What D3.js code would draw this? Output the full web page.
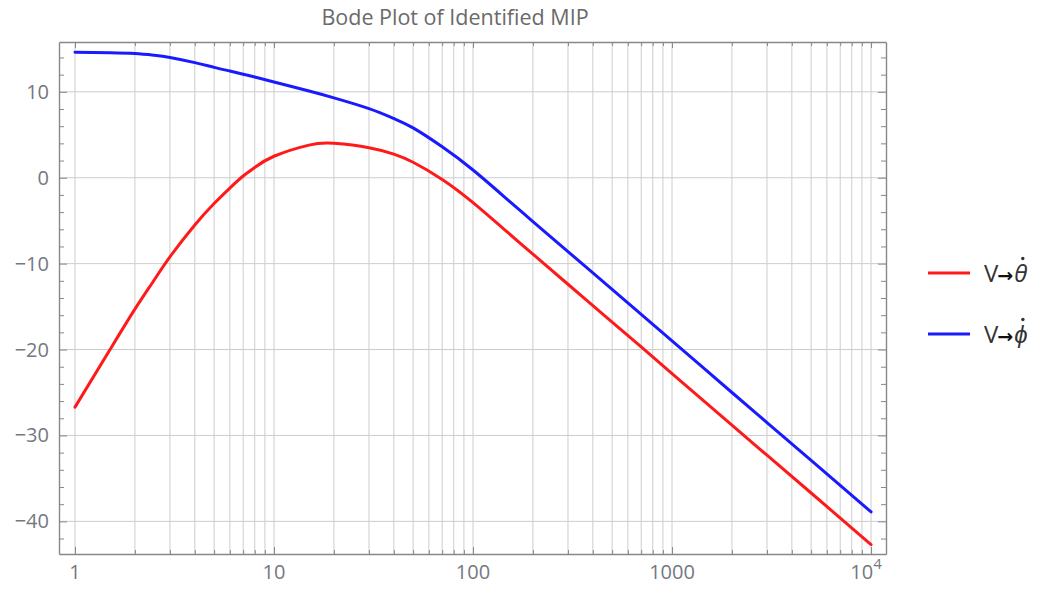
<!DOCTYPE html>
<html>
<head>
<meta charset="utf-8">
<script src="https://cdn.jsdelivr.net/npm/d3@7"></script>
<style>
  html, body { margin: 0; padding: 0; background: #fff; }
  svg { display: block; font-family: "Open Sans", "Liberation Sans", sans-serif; }
</style>
</head>
<body>
<svg id="chart" width="1051" height="589"></svg>
<script>
// Frequencies (rad/s) at which the magnitude responses are sampled
const freq = [1, 1.5, 2, 2.5, 3, 4, 5, 6, 7, 8, 10, 15, 20, 30, 40, 50, 70, 100, 150, 200, 300, 500, 700, 1000, 2000, 3000, 5000, 10000];
// Magnitude (dB), input voltage -> pitch rate
const thetaDot = [-26.7, -20.0, -15.3, -11.9, -9.2, -5.5, -3.0, -1.2, 0.2, 1.2, 2.5, 3.8, 4.0, 3.5, 2.75, 1.8, -0.2, -2.9, -6.4, -8.9, -12.4, -16.8, -19.7, -22.8, -28.8, -32.3, -36.7, -42.7];
// Magnitude (dB), input voltage -> wheel rate
const phiDot = [14.6, 14.55, 14.45, 14.25, 14.0, 13.4, 12.85, 12.42, 12.05, 11.72, 11.15, 10.1, 9.3, 8.05, 6.9, 5.8, 3.6, 0.9, -2.6, -5.1, -8.6, -13.0, -15.9, -19.0, -25.0, -28.5, -32.9, -38.9];
// Axis ticks
const xMajor = [1, 10, 100, 1000, 10000];
const yMajor = [-40, -30, -20, -10, 0, 10];
const yMinor = d3.range(-42, 16, 2);
const legendItems = [
  { label: "θ", color: "#ff1a1a", values: thetaDot },
  { label: "ϕ", color: "#1a1aff", values: phiDot }
];

const svg = d3.select("#chart");
const plotL = 59, plotR = 886, plotT = 42, plotB = 554;

const x = d3.scaleLog().domain([0.831, 11890]).range([plotL, plotR]);
const y = d3.scaleLinear().domain([-43.8, 15.8]).range([plotB, plotT]);

// Vertical grid values: 1..9 per decade
const xGrid = [];
for (let p = 0; p < 5; p++) for (let m = 1; m <= 9; m++) {
  const v = m * Math.pow(10, p);
  if (v <= 10000) xGrid.push(v);
}

const grid = svg.append("g").attr("stroke", "#cdcdcd").attr("stroke-width", 1);
grid.selectAll("line.v").data(xGrid).join("line").attr("class", "v")
  .attr("x1", d => x(d)).attr("x2", d => x(d))
  .attr("y1", plotT).attr("y2", plotB);
grid.selectAll("line.h").data(yMajor).join("line").attr("class", "h")
  .attr("x1", plotL).attr("x2", plotR)
  .attr("y1", d => y(d)).attr("y2", d => y(d));

// Frame with inward ticks
const axisColor = "#888";
const bottomAxis = d3.axisBottom(x).tickValues(xGrid).tickSizeOuter(0).tickFormat("");
const topAxis = d3.axisTop(x).tickValues(xGrid).tickSizeOuter(0).tickFormat("");
const leftAxis = d3.axisLeft(y).tickValues(yMinor).tickSizeOuter(0).tickFormat("");
const rightAxis = d3.axisRight(y).tickValues(yMinor).tickSizeOuter(0).tickFormat("");

function styleAxis(g) {
  g.selectAll("path").attr("stroke", axisColor).attr("stroke-width", 1.4);
  g.selectAll("line").attr("stroke", axisColor).attr("stroke-width", 1);
}
svg.append("g").attr("transform", `translate(0,${plotB})`).call(bottomAxis).call(styleAxis)
  .selectAll(".tick line").attr("y2", d => xMajor.includes(d) ? -7 : -4);
svg.append("g").attr("transform", `translate(0,${plotT})`).call(topAxis).call(styleAxis)
  .selectAll(".tick line").attr("y2", d => xMajor.includes(d) ? 6 : 4);
svg.append("g").attr("transform", `translate(${plotL},0)`).call(leftAxis).call(styleAxis)
  .selectAll(".tick line").attr("x2", d => d % 10 === 0 ? 8 : 5);
svg.append("g").attr("transform", `translate(${plotR},0)`).call(rightAxis).call(styleAxis)
  .selectAll(".tick line").attr("x2", d => d % 10 === 0 ? -8 : -5);

// Tick labels
const labelColor = "#747880";
const xl = svg.append("g").attr("fill", labelColor).attr("font-size", 20).attr("text-anchor", "middle");
xMajor.forEach(v => {
  if (v === 10000) {
    const t = xl.append("text").attr("x", x(v) - 5).attr("y", 579);
    t.append("tspan").text("10");
    t.append("tspan").attr("font-size", 15).attr("dy", -10).text("4");
  } else {
    xl.append("text").attr("x", x(v)).attr("y", 579).text(d3.format("d")(v));
  }
});
const yl = svg.append("g").attr("fill", labelColor).attr("font-size", 20).attr("text-anchor", "end");
yMajor.forEach(v => {
  yl.append("text").attr("x", 49).attr("y", y(v)).attr("dy", "0.35em")
    .text(v < 0 ? "\u2212" + Math.abs(v) : String(v));
});

// Title
svg.append("text").attr("x", 455).attr("y", 25).attr("text-anchor", "middle")
  .attr("fill", "#6a6a6a").attr("font-size", 21.5).text("Bode Plot of Identified MIP");

// Curves
svg.append("clipPath").attr("id", "plotClip").append("rect")
  .attr("x", plotL).attr("y", plotT).attr("width", plotR - plotL).attr("height", plotB - plotT);
const line = vals => d3.line()
  .x((d, i) => x(freq[i]))
  .y(d => y(d))
  .curve(d3.curveNatural)(vals);
svg.append("g").attr("clip-path", "url(#plotClip)")
  .selectAll("path").data(legendItems).join("path")
  .attr("d", d => line(d.values))
  .attr("fill", "none").attr("stroke", d => d.color)
  .attr("stroke-width", 3).attr("stroke-linejoin", "round").attr("stroke-linecap", "round");

// Legend: swatch, "V→", then an italic Greek letter with a time-derivative dot
const lg = svg.append("g");
legendItems.forEach((d, i) => {
  const ly = 273 + i * 61;
  lg.append("line").attr("x1", 928).attr("x2", 970).attr("y1", ly).attr("y2", ly)
    .attr("stroke", d.color).attr("stroke-width", 3);
  const t = lg.append("text").attr("x", 984).attr("y", ly).attr("dy", "0.36em")
    .attr("font-size", 24).attr("fill", "#333");
  t.append("tspan").text("V");
  t.append("tspan").attr("font-family", "DejaVu Sans").attr("font-weight", "bold")
    .attr("font-size", 19).attr("fill", "#111").attr("dx", -1).text("→");
  t.append("tspan").attr("font-style", "italic").attr("dx", 1).text(d.label);
  const n = t.node();
  const last = n.getNumberOfChars() - 1;
  const start = n.getStartPositionOfChar(last);
  const end = n.getEndPositionOfChar(last);
  lg.append("circle")
    .attr("cx", (start.x + end.x) / 2 + 2)
    .attr("cy", ly - 14.5)
    .attr("r", 1.7)
    .attr("fill", "#333");
});
</script>
</body>
</html>
